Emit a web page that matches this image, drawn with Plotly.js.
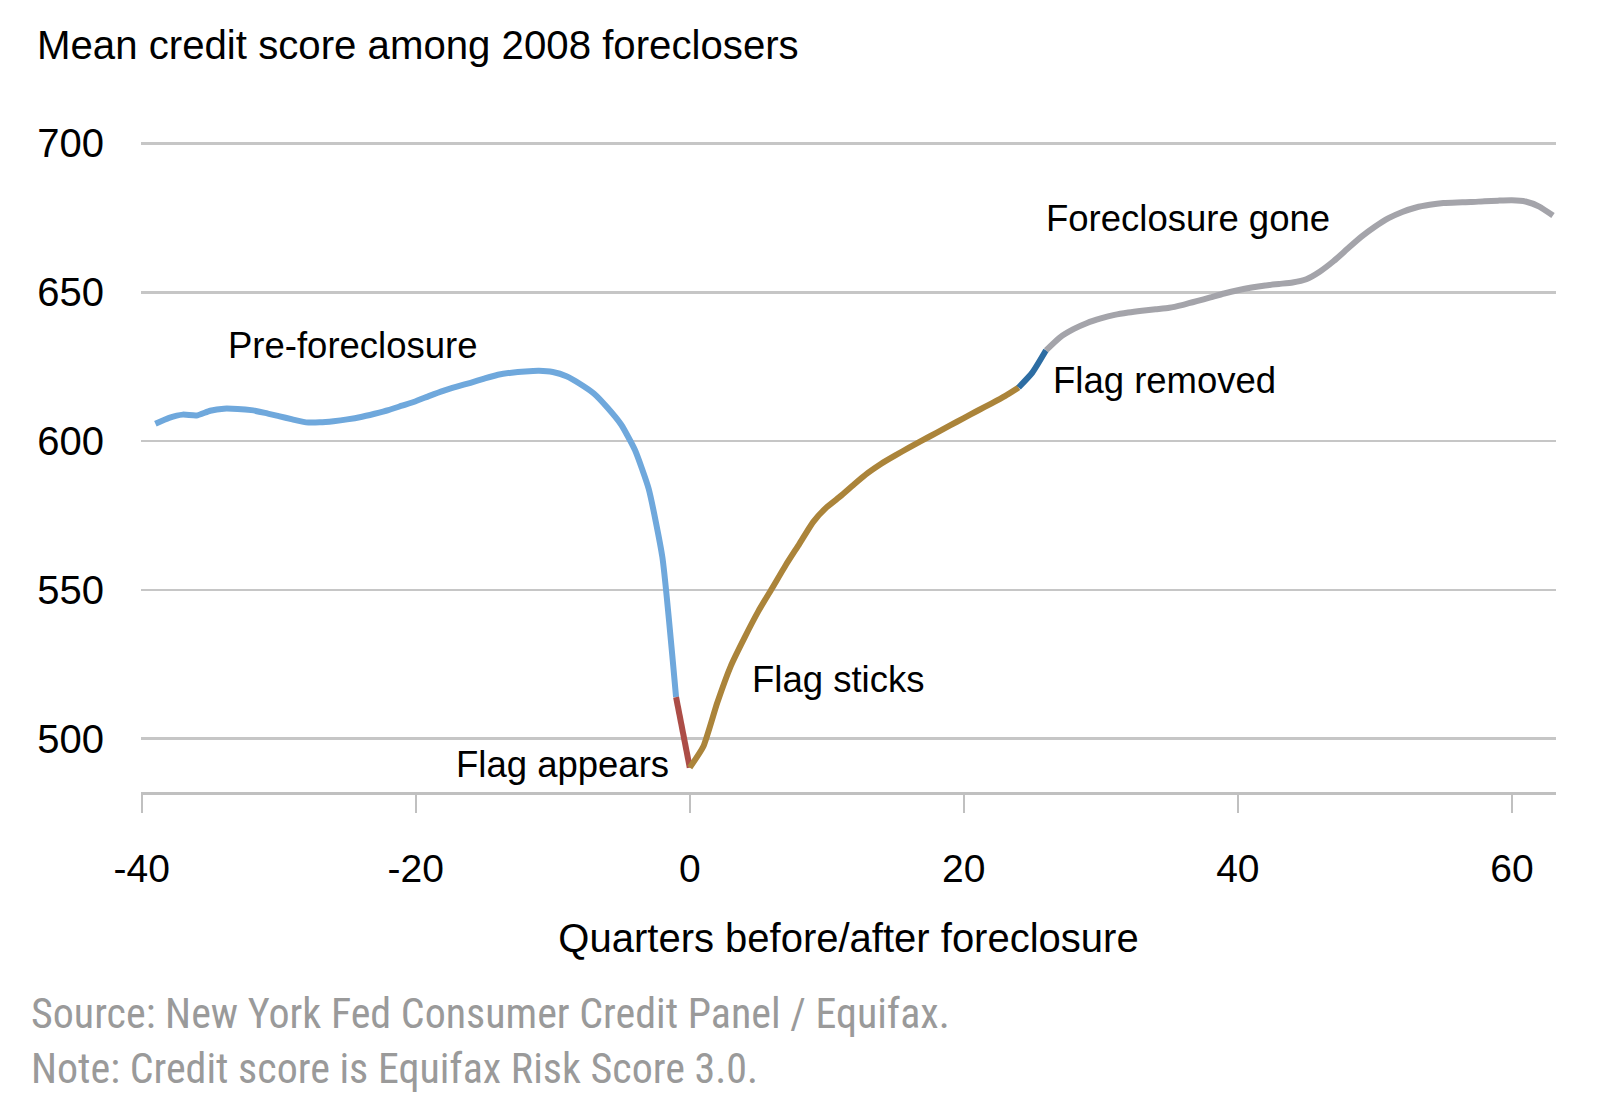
<!DOCTYPE html>
<html>
<head>
<meta charset="utf-8">
<script src="https://cdn.plot.ly/plotly-3.0.1.min.js"></script>
<style>
  html, body { margin: 0; padding: 0; background: #ffffff; }
  #chart { width: 1610px; height: 1102px; }
</style>
</head>
<body>
<div id="chart"></div>
<script>
// ---------------- DATA ----------------
const preQuarters = [-39,-38,-37,-36,-35,-34,-33,-32,-31,-30,-29,-28,-27,-26,-25,-24,-23,-22,-21,-20,
                     -19,-18,-17,-16,-15,-14,-13,-12,-11,-10,-9,-8,-7,-6,-5,-4,-3,-2,-1];
const preScores = [605.8,607.8,608.9,608.6,610.2,610.9,610.8,610.4,609.5,608.4,607.3,606.3,606.3,606.7,607.3,608.1,609.2,610.4,611.9,613.4,
                   615.2,616.9,618.3,619.6,621.0,622.3,623.0,623.4,623.6,623.2,621.8,619.2,616.0,611.2,605.5,597.0,584.0,561.0,514.0];

const appearQuarters = [-1, 0];
const appearScores = [514.0, 490.3];

const sticksQuarters = [0,1,2,3,4,5,6,7,8,9,10,11,12,13,14,15,16,17,18,19,20,21,22,23,24];
const sticksScores = [490.3,497.5,512.0,524.5,534.0,542.8,550.5,558.3,565.5,572.8,577.8,581.5,585.5,589.3,592.5,595.2,597.8,600.3,602.8,605.3,607.7,610.2,612.6,615.1,618.0];

const removedQuarters = [24, 25, 26];
const removedScores = [618.0, 623.0, 630.5];

const goneQuarters = [26,27,28,29,30,31,32,33,34,35,36,37,38,39,40,41,42,43,44,45,46,47,48,49,50,
                      51,52,53,54,55,56,57,58,59,60,61,62,63];
const goneScores = [630.5,634.8,637.6,639.7,641.2,642.4,643.2,643.8,644.3,644.8,645.8,647.0,648.3,649.6,650.7,651.6,652.3,652.8,653.3,654.4,657.0,660.5,664.6,668.6,672.0,
                    674.9,677.0,678.5,679.4,680.0,680.2,680.3,680.6,680.8,680.9,680.5,678.8,675.8];

const yTickValues = [500, 550, 600, 650, 700];
const xTickValues = [-40, -20, 0, 20, 40, 60];

const segmentLabels = ["Pre-foreclosure", "Flag appears", "Flag sticks", "Flag removed", "Foreclosure gone"];
const labelQuarters = [-33.85, -1.4, 4.43, 26.38, 25.88];
const labelScores = [632.0, 491.5, 520.0, 620.4, 674.8];
const labelAnchors = ["left", "right", "left", "left", "left"];

const chartTitle = "Mean credit score among 2008 foreclosers";
const xTitle = "Quarters before/after foreclosure";
const sourceLines = ["Source: New York Fed Consumer Credit Panel / Equifax.",
                     "Note: Credit score is Equifax Risk Score 3.0."];

// ---------------- STYLE ----------------
const W = 1610, H = 1102;
const M = { l: 141, r: 54, t: 141.5, b: 310.3 };
const plotH = H - M.t - M.b;
const plotW = W - M.l - M.r;
const SANS = "'Liberation Sans', Arial, sans-serif";
const NOTE_FONT = "'Roboto Condensed', 'Liberation Sans Narrow', 'DejaVu Sans Condensed', Roboto, sans-serif";

function seg(x, y, color) {
  return { x: x, y: y, type: "scatter", mode: "lines",
           line: { color: color, width: 6, shape: "spline", smoothing: 0.5 },
           hoverinfo: "skip", showlegend: false };
}

const traces = [
  seg(preQuarters, preScores, "#6fa8dc"),
  seg(appearQuarters, appearScores, "#ac4d47"),
  seg(sticksQuarters, sticksScores, "#ab843a"),
  seg(removedQuarters, removedScores, "#2d6da3"),
  seg(goneQuarters, goneScores, "#a4a4aa")
];

const annotations = segmentLabels.map((t, i) => ({
  text: t, x: labelQuarters[i], y: labelScores[i], xref: "x", yref: "y",
  xanchor: labelAnchors[i], yanchor: "middle", showarrow: false,
  font: { family: SANS, size: 36.5, color: "#000000" }
}));

// notes positioned in pixel space, converted to paper coords
function pxToPaperX(px) { return (px - M.l) / plotW; }
function pxToPaperY(py) { return (H - M.b - py) / plotH; }
const notePixelY = [1013.5, 1068];
sourceLines.forEach((t, i) => {
  annotations.push({
    text: t, xref: "paper", yref: "paper",
    x: pxToPaperX(29), y: pxToPaperY(notePixelY[i]),
    xanchor: "left", yanchor: "middle", showarrow: false,
    font: { family: NOTE_FONT, size: 42, color: "#9a9a9a" }
  });
});

const layout = {
  width: W, height: H,
  margin: M,
  paper_bgcolor: "#ffffff",
  plot_bgcolor: "#ffffff",
  showlegend: false,
  title: {
    text: chartTitle,
    font: { family: SANS, size: 40.2, color: "#000000" },
    xref: "container", yref: "container",
    x: 37 / W, xanchor: "left",
    y: 1 - 45 / H, yanchor: "middle"
  },
  xaxis: {
    range: [-40.05, 63.22],
    tickmode: "array", tickvals: xTickValues, ticktext: xTickValues.map(String),
    showgrid: false, zeroline: false,
    showline: true, linecolor: "#c0c0c0", linewidth: 3,
    ticks: "outside", ticklen: 18, tickwidth: 2, tickcolor: "#c0c0c0",
    tickfont: { family: SANS, size: 39, color: "#000000" },
    ticklabelstandoff: 22,
    title: { text: xTitle, font: { family: SANS, size: 40, color: "#000000" }, standoff: 36 },
    automargin: false, fixedrange: true
  },
  yaxis: {
    range: [482.1, 700.5],
    tickmode: "array", tickvals: yTickValues, ticktext: yTickValues.map(String),
    showgrid: true, gridcolor: "#c6c6c6", gridwidth: 2.5,
    zeroline: false, showline: false, ticks: "",
    tickfont: { family: SANS, size: 40, color: "#000000" },
    ticklabelstandoff: 36,
    automargin: false, fixedrange: true
  },
  annotations: annotations
};

Plotly.newPlot("chart", traces, layout, { displayModeBar: false, staticPlot: true });
</script>
</body>
</html>
